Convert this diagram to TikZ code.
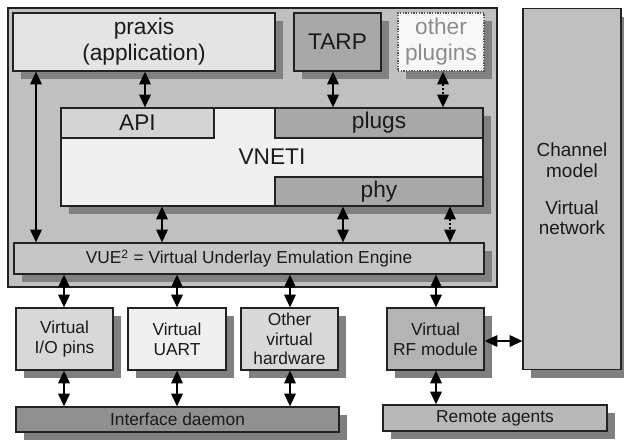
\documentclass[tikz,border=0pt]{standalone}
\usepackage{fontspec}
\setmainfont{Liberation Sans}
\usetikzlibrary{arrows.meta,shadows}
\definecolor{shd}{HTML}{808080}
\definecolor{edge}{HTML}{222222}
\definecolor{txt}{HTML}{1A1A1A}
\definecolor{gC0}{HTML}{C0C0C0}
\definecolor{gE4}{HTML}{E4E4E4}
\definecolor{gA8}{HTML}{A8A8A8}
\definecolor{gF8}{HTML}{F8F8F8}
\definecolor{gF0}{HTML}{F0F0F0}
\definecolor{gD4}{HTML}{D4D4D4}
\definecolor{gC6}{HTML}{C6C6C6}
\definecolor{gD8}{HTML}{D8D8D8}
\definecolor{gB4}{HTML}{B4B4B4}
\definecolor{g90}{HTML}{909090}
\definecolor{gB8}{HTML}{B8B8B8}
\definecolor{dotedge}{HTML}{5A5A5A}
\definecolor{dottext}{HTML}{8C8C8C}
\begin{document}
\begin{tikzpicture}[x=0.75pt,y=-0.75pt,
  plain/.style={draw=edge, line width=0.9pt, inner sep=0pt, text=txt, align=center},
  box/.style={plain, drop shadow={shadow xshift=6pt, shadow yshift=-6pt, fill=shd, opacity=1}},
  sz/.style n args={2}{minimum width=#1pt, minimum height=#2pt},
  big/.style={font=\fontsize{17}{19.5}\selectfont},
  small/.style={font=\fontsize{13}{14.8}\selectfont},
  arr/.style={line width=1.5pt, draw=black, {Triangle[length=9.5pt,width=8.5pt]}-{Triangle[length=9.5pt,width=8.5pt]}},
  darr/.style={arr, dash pattern=on 1.5pt off 1.5pt}
]
\useasboundingbox (0,0) rectangle (624,440);

% containers
\node[plain, fill=gC0, sz={366.75}{209.25}] (outer) at (252.5,147.5) {};
\node[box, fill=gC0, sz={73.5}{270.75}, font=\fontsize{14.2}{15.5}\selectfont] (chan) at (572,189) {Channel\\model\\[12pt]Virtual\\network};

% top row
\node[box, big, fill=gE4, sz={196.5}{43.5}] (praxis) at (144,42) {praxis\\(application)};
\node[box, big, fill=gA8, sz={65.25}{43.5}] (tarp) at (337.5,42) {TARP};
\node[box, big, fill=gF8, draw=dotedge, dash pattern=on 1pt off 1pt, text=dottext, sz={64.5}{43.5}] (other) at (441,42) {other\\plugins};

% VNETI
\node[box, big, fill=gF0, sz={316.5}{73.5}] (vneti) at (272,157) {VNETI};
\node[plain, big, fill=gD4, sz={114.75}{22.5}] (api) at (137.5,123) {API};
\node[plain, big, fill=gA8, sz={156}{22.5}] (plugs) at (379,123) {plugs};
\node[plain, big, fill=gA8, sz={156}{21.75}] (phy) at (379,191.5) {phy};

% VUE
\node[box, small, fill=gC6, sz={352.5}{23.25}] (vue) at (249,258.5) {VUE\textsuperscript{2} = Virtual Underlay Emulation Engine};

% virtual hardware
\node[box, small, fill=gD8, sz={72.75}{46.5}] (io) at (64.5,339) {Virtual\\I/O pins};
\node[box, small, fill=gF0, sz={73.5}{46.5}] (uart) at (177,339) {Virtual\\UART};
\node[box, small, fill=gD8, sz={72.75}{46.5}] (ohw) at (289.5,339) {Other\\virtual\\hardware};
\node[box, small, fill=gB4, sz={72.75}{46.5}] (rf) at (435.5,339) {Virtual\\RF module};

% bottom
\node[box, small, fill=g90, sz={242.25}{18.75}] (daemon) at (177.5,419.5) {Interface daemon};
\node[box, small, fill=gB8, sz={168}{19.5}] (remote) at (495,418) {Remote agents};

% column coordinates
\coordinate (x36) at (36,0);
\coordinate (x145) at (145,0);
\coordinate (x333) at (333,0);
\coordinate (x443) at (443,0);
\coordinate (x162) at (162,0);
\coordinate (x343) at (343,0);
\coordinate (x450) at (450,0);
\coordinate (x64) at (64,0);
\coordinate (x177) at (177,0);
\coordinate (x290) at (290,0);
\coordinate (x436) at (436,0);
\coordinate (y341) at (0,341);

% connectors
\draw[arr] (praxis.south -| x36) -- (vue.north -| x36);
\draw[arr] (praxis.south -| x145) -- (api.north -| x145);
\draw[arr] (tarp.south -| x333) -- (plugs.north -| x333);
\draw[darr] (other.south -| x443) -- (plugs.north -| x443);
\draw[arr] (vneti.south -| x162) -- (vue.north -| x162);
\draw[arr] (phy.south -| x343) -- (vue.north -| x343);
\draw[darr] (phy.south -| x450) -- (vue.north -| x450);
\draw[arr] (vue.south -| x64) -- (io.north -| x64);
\draw[arr] (vue.south -| x177) -- (uart.north -| x177);
\draw[arr] (vue.south -| x290) -- (ohw.north -| x290);
\draw[arr] (vue.south -| x436) -- (rf.north -| x436);
\draw[arr] (io.south -| x64) -- (daemon.north -| x64);
\draw[arr] (uart.south -| x177) -- (daemon.north -| x177);
\draw[arr] (ohw.south -| x290) -- (daemon.north -| x290);
\draw[arr] (rf.south -| x436) -- (remote.north -| x436);
\draw[arr] (rf.east |- y341) -- (chan.west |- y341);
\end{tikzpicture}
\end{document}
